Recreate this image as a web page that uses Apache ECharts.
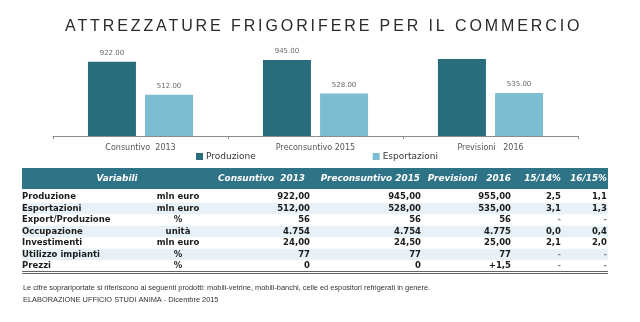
<!DOCTYPE html>
<html>
<head>
<meta charset="utf-8">
<script src="https://cdn.jsdelivr.net/npm/echarts@6/dist/echarts.min.js"></script>
<style>
html,body{margin:0;padding:0;background:#ffffff;}
#chart{width:640px;height:322px;}
</style>
</head>
<body>
<div id="chart"></div>
<script>
// ---- data ----
const TITLE = 'ATTREZZATURE FRIGORIFERE PER IL COMMERCIO';
const categories = ['Consuntivo  2013', 'Preconsuntivo 2015', 'Previsioni   2016'];
const produzione = [922, 945, 955];
const esportazioni = [512, 528, 535];
const seriesNames = ['Produzione', 'Esportazioni'];

const tableHeaders = ['Variabili', 'Consuntivo  2013', 'Preconsuntivo 2015', 'Previsioni   2016', '15/14%', '16/15%'];
const rowLabels = ['Produzione', 'Esportazioni', 'Export/Produzione', 'Occupazione', 'Investimenti', 'Utilizzo impianti', 'Prezzi'];
const rowUnits = ['mln euro', 'mln euro', '%', 'unità', 'mln euro', '%', '%'];
const colConsuntivo2013 = ['922,00', '512,00', '56', '4.754', '24,00', '77', '0'];
const colPreconsuntivo2015 = ['945,00', '528,00', '56', '4.754', '24,50', '77', '0'];
const colPrevisioni2016 = ['955,00', '535,00', '56', '4.775', '25,00', '77', '+1,5'];
const colVar1514 = ['2,5', '3,1', '-', '0,0', '2,1', '-', '-'];
const colVar1615 = ['1,1', '1,3', '-', '0,4', '2,0', '-', '-'];
const footnotes = [
  'Le cifre soprariportate si riferiscono ai seguenti prodotti: mobili-vetrine, mobili-banchi, celle ed espositori refrigerati in genere.',
  'ELABORAZIONE UFFICIO STUDI ANIMA - Dicembre 2015'
];

// letter spacing for the title only
(function(){
  const orig = CanvasRenderingContext2D.prototype.fillText;
  CanvasRenderingContext2D.prototype.fillText = function(t, x, y, m){
    if (t === TITLE && 'letterSpacing' in this) {
      const ls = this.letterSpacing;
      this.letterSpacing = '2.9px';
      m === undefined ? orig.call(this, t, x, y) : orig.call(this, t, x, y, m);
      this.letterSpacing = ls;
    } else {
      m === undefined ? orig.call(this, t, x, y) : orig.call(this, t, x, y, m);
    }
  };
})();

// ---- table layout ----
const C_DARK = '#296c7c', C_LIGHT = '#7dbdd2', C_HEAD = '#2f7386';
const tLeft = 22, tRight = 608, headTop = 168, headH = 21;
const rowY0 = 197, rowStep = 11.5;
const colRight = [310, 421, 511, 561, 607];
const headRight = [305, 420, 511, 561, 607];
const bodyFont = 'bold 8.5px "DejaVu Sans"';
const headFont = 'italic bold 8.9px "DejaVu Sans"';
const valueCols = [colConsuntivo2013, colPreconsuntivo2015, colPrevisioni2016, colVar1514, colVar1615];

const graphics = [];
// alternating row bands
rowLabels.forEach((_, i) => {
  if (i % 2 === 1) {
    graphics.push({type:'rect', silent:true, shape:{x:tLeft, y:rowY0 + i*rowStep - rowStep/2, width:tRight-tLeft, height:rowStep},
      style:{fill:'#e7f1f7'}});
  }
});
graphics.push({type:'rect', silent:true, shape:{x:tLeft, y:headTop, width:tRight-tLeft, height:headH}, style:{fill:C_HEAD}});
// header
graphics.push({type:'text', silent:true, style:{text:tableHeaders[0], x:117, y:headTop+headH/2, fill:'#ffffff', font:headFont, textAlign:'center', textVerticalAlign:'middle'}});
for (let c = 1; c < tableHeaders.length; c++) {
  graphics.push({type:'text', silent:true, style:{text:tableHeaders[c], x:headRight[c-1], y:headTop+headH/2, fill:'#ffffff', font:headFont, textAlign:'right', textVerticalAlign:'middle'}});
}
// body
rowLabels.forEach((lab, i) => {
  const y = rowY0 + i*rowStep;
  graphics.push({type:'text', silent:true, style:{text:lab, x:tLeft, y:y, fill:'#1c1c1c', font:bodyFont, textAlign:'left', textVerticalAlign:'middle'}});
  graphics.push({type:'text', silent:true, style:{text:rowUnits[i], x:178, y:y, fill:'#1c1c1c', font:bodyFont, textAlign:'center', textVerticalAlign:'middle'}});
  valueCols.forEach((col, c) => {
    const v = col[i];
    graphics.push({type:'text', silent:true, style:{text:v, x:colRight[c], y:y, fill: v === '-' ? '#8a8a8a' : '#1c1c1c', font:bodyFont, textAlign:'right', textVerticalAlign:'middle'}});
  });
});
// double bottom rule
graphics.push({type:'line', silent:true, shape:{x1:tLeft, y1:271.5, x2:tRight, y2:271.5}, style:{stroke:'#666', lineWidth:1}});
graphics.push({type:'line', silent:true, shape:{x1:tLeft, y1:273.5, x2:tRight, y2:273.5}, style:{stroke:'#666', lineWidth:1}});
// footnotes
footnotes.forEach((f, i) => {
  graphics.push({type:'text', silent:true, style:{text:f, x:23, y:288 + i*11.5, fill:'#333', font:'7.4px "Liberation Sans"', textAlign:'left', textVerticalAlign:'middle'}});
});

const chart = echarts.init(document.getElementById('chart'), null, {renderer:'canvas'});
chart.setOption({
  animation: false,
  backgroundColor: '#ffffff',
  title: {
    text: TITLE, left: 65, top: 19, padding: 0,
    textStyle: {fontFamily:'"Liberation Sans", Arial', fontSize:16, fontWeight:'normal', color:'#2a2a2a'}
  },
  legend: {
    data: seriesNames, left: 196, top: 152, itemWidth: 7, itemHeight: 7, itemGap: 117, icon: 'rect',
    padding: 0,
    textStyle: {fontFamily:'"DejaVu Sans"', fontSize: 9, color:'#333', padding:[0,0,0,-2]}
  },
  grid: {left: 53, right: 62, top: 55.5, height: 80.5, containLabel: false},
  xAxis: {
    type: 'category', data: categories,
    axisLine: {lineStyle: {color:'#8c8c8c', width:1}},
    axisTick: {show: true, length: 3, lineStyle: {color:'#8c8c8c'}},
    axisLabel: {fontFamily:'"DejaVu Sans"', fontSize: 8, color:'#555', margin: 8}
  },
  yAxis: {type:'value', min:0, max:1000, show:false},
  series: [
    {
      name: seriesNames[0], type:'bar', barWidth:48, barGap:'19%',
      itemStyle: {color: C_DARK},
      label: {show:true, position:'top', distance:5, fontFamily:'"DejaVu Sans"', fontSize:7, color:'#6a6a6a',
        formatter: p => p.value.toFixed(2)},
      data: produzione.map((v, i) => i === 2 ? {value:v, label:{show:false}} : v)
    },
    {
      name: seriesNames[1], type:'bar', barWidth:48,
      itemStyle: {color: C_LIGHT},
      label: {show:true, position:'top', distance:5, fontFamily:'"DejaVu Sans"', fontSize:7, color:'#6a6a6a',
        formatter: p => p.value.toFixed(2)},
      data: esportazioni
    }
  ],
  graphic: graphics
});
</script>
</body>
</html>
